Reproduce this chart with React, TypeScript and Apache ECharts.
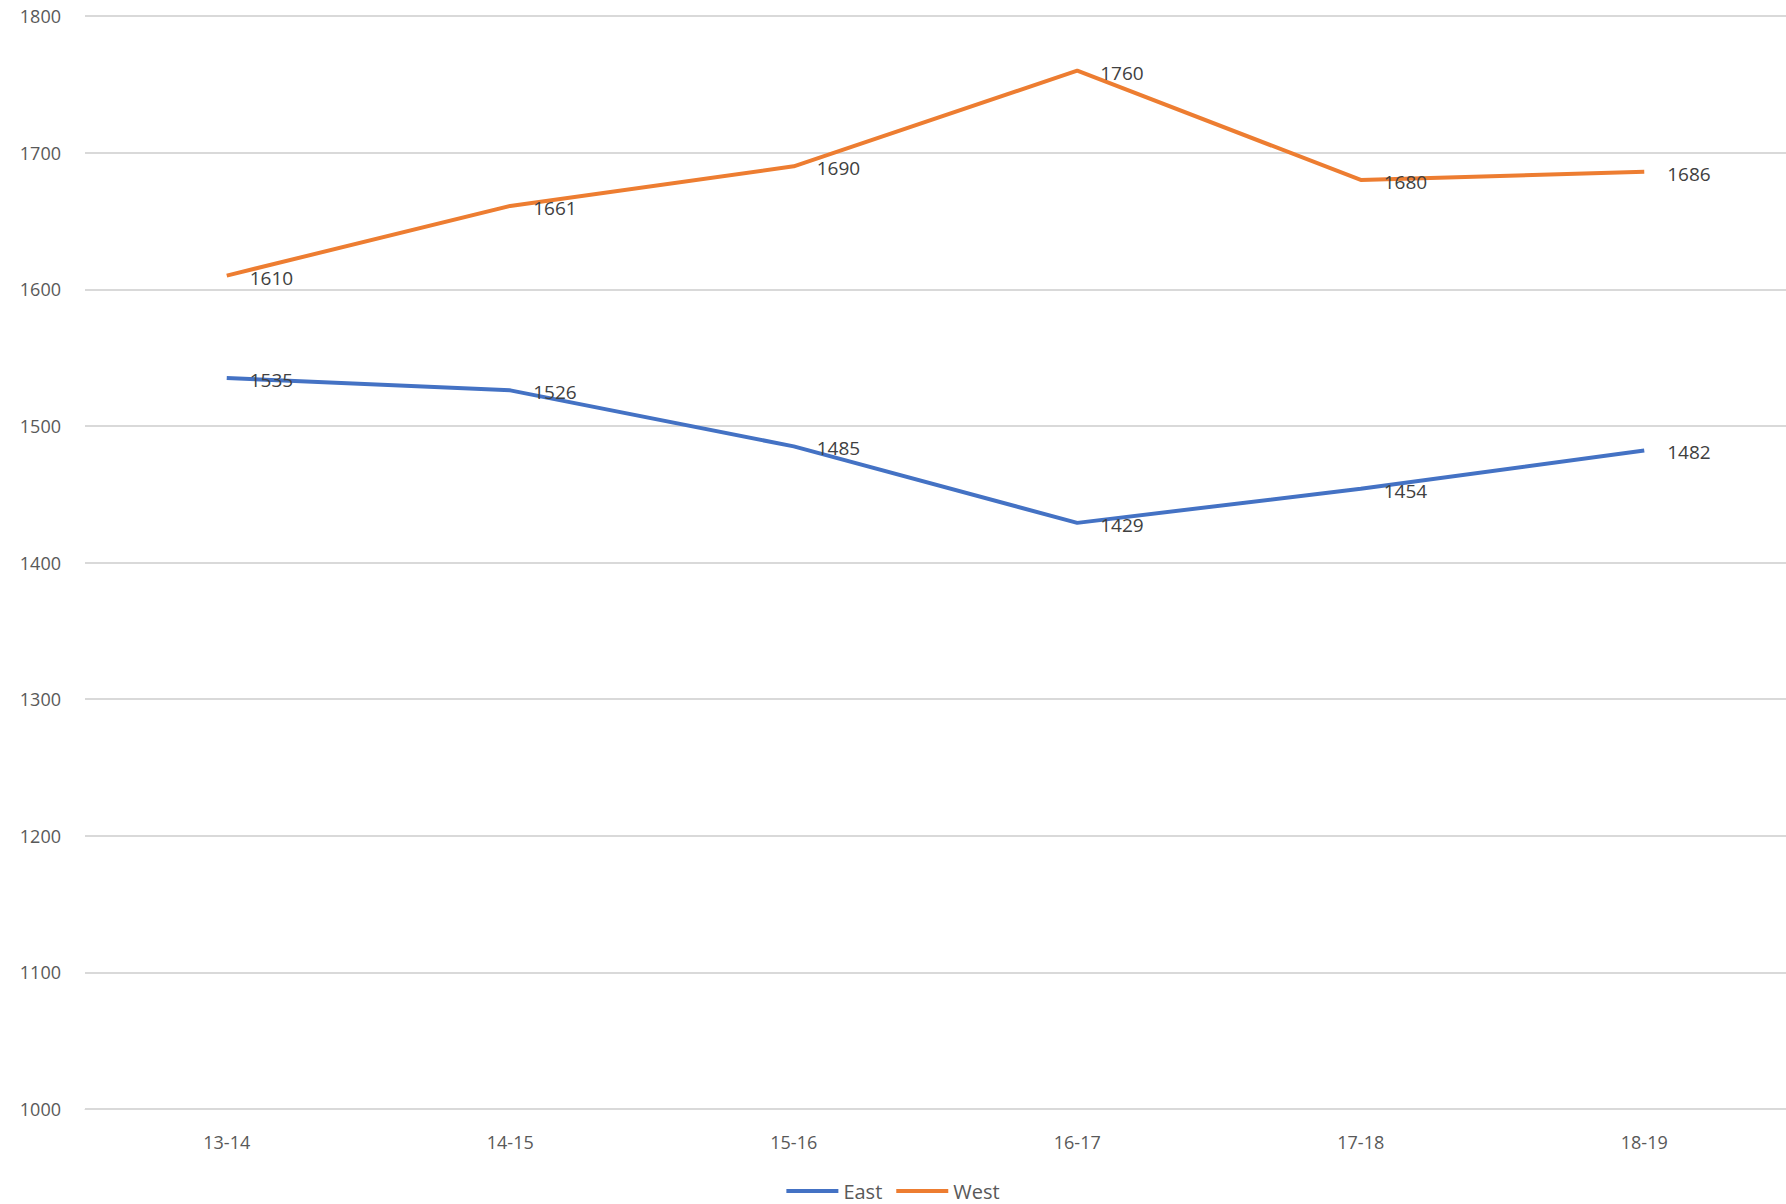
import { useEffect, useRef } from 'react';
import * as echarts from 'echarts';

const categories = ['13-14', '14-15', '15-16', '16-17', '17-18', '18-19'];
const eastValues = [1535, 1526, 1485, 1429, 1454, 1482];
const westValues = [1610, 1661, 1690, 1760, 1680, 1686];

export default function App() {
  const chartRef = useRef<HTMLDivElement>(null);

  useEffect(() => {
    document.body.style.margin = '0';
    if (!chartRef.current) return;
    const chart = echarts.init(chartRef.current, undefined, { renderer: 'svg' });
    const font = "'Open Sans', 'Liberation Sans', sans-serif";
    const label = {
      show: true,
      position: 'right' as const,
      offset: [18, 2],
      color: '#404040',
      fontSize: 19,
      fontFamily: font,
    };
    chart.setOption({
      animation: false,
      backgroundColor: '#fff',
      textStyle: { fontFamily: font },
      grid: { left: 85, right: 0, top: 16, bottom: 95 },
      xAxis: {
        type: 'category',
        data: categories,
        axisLine: { lineStyle: { color: '#d9d9d9' } },
        axisTick: { show: false },
        axisLabel: { color: '#595959', fontSize: 18, margin: 24 },
      },
      yAxis: {
        type: 'value',
        min: 1000,
        max: 1800,
        interval: 100,
        axisLine: { show: false },
        axisTick: { show: false },
        axisLabel: { color: '#595959', fontSize: 18, margin: 24, formatter: (v: number) => String(v) },
        splitLine: { lineStyle: { color: '#d9d9d9', width: 2 } },
      },
      legend: {
        bottom: -2,
        left: 'center',
        icon: 'rect',
        itemWidth: 52,
        itemHeight: 4,
        itemGap: 14,
        textStyle: { color: '#595959', fontSize: 20 },
        data: ['East', 'West'],
      },
      series: [
        {
          name: 'East',
          type: 'line',
          data: eastValues,
          symbol: 'circle',
          symbolSize: 0,
          lineStyle: { color: '#4472C4', width: 4 },
          itemStyle: { color: '#4472C4' },
          label,
        },
        {
          name: 'West',
          type: 'line',
          data: westValues,
          symbol: 'circle',
          symbolSize: 0,
          lineStyle: { color: '#ED7D31', width: 4 },
          itemStyle: { color: '#ED7D31' },
          label,
        },
      ],
    });
    return () => chart.dispose();
  }, []);

  return <div ref={chartRef} style={{ width: '1786px', height: '1204px' }} />;
}
